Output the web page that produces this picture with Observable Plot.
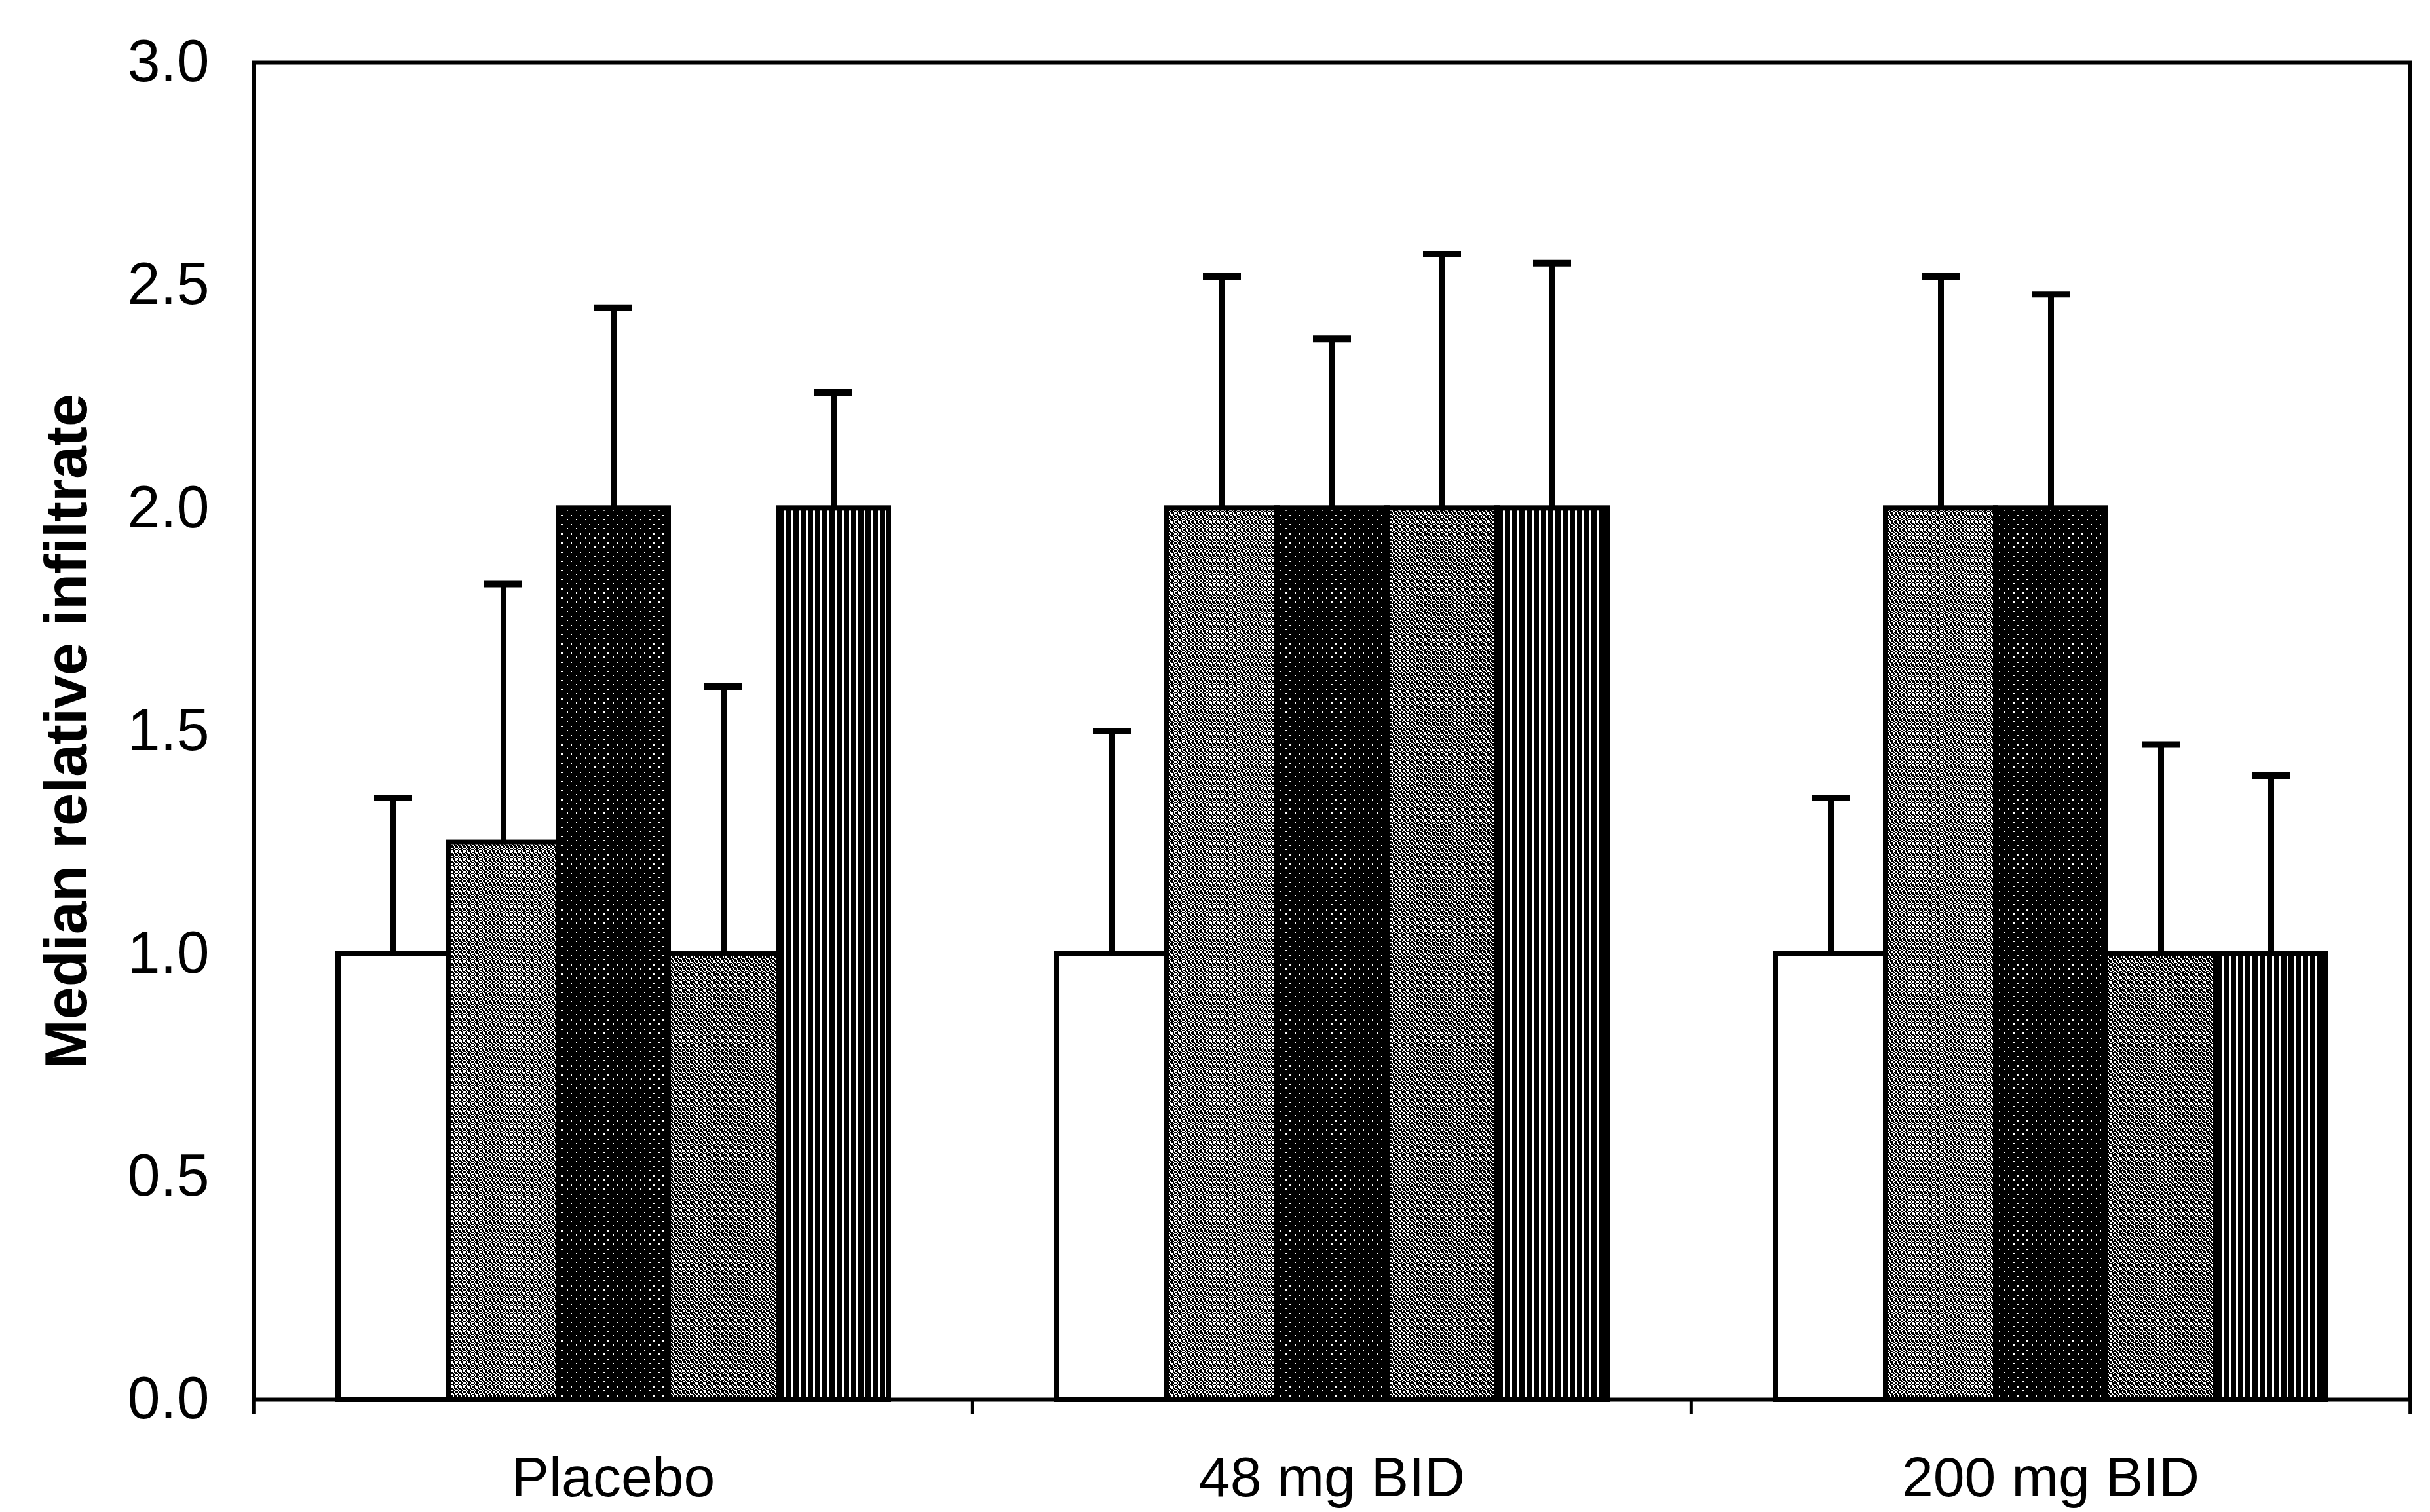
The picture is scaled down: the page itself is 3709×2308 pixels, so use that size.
<!DOCTYPE html>
<html><head><meta charset="utf-8">
<script src="https://cdn.jsdelivr.net/npm/d3@7"></script>
<script src="https://cdn.jsdelivr.net/npm/@observablehq/plot@0.6"></script>
<style>
html,body{margin:0;padding:0;background:#fff;}
#chart svg{display:block;}
[aria-label="y-axis label"] text{font-weight:bold;font-size:90px;}
</style></head><body><div id="chart"></div>
<script>
// ---- data ----
const groups = ["Placebo", "48 mg BID", "200 mg BID"];
const series = ["Series 1", "Series 2", "Series 3", "Series 4", "Series 5"];
const placeboMedian = [1.0, 1.25, 2.0, 1.0, 2.0];
const placeboUpper  = [1.35, 1.83, 2.45, 1.60, 2.26];
const mg48Median    = [1.0, 2.0, 2.0, 2.0, 2.0];
const mg48Upper     = [1.50, 2.52, 2.38, 2.57, 2.55];
const mg200Median   = [1.0, 2.0, 2.0, 1.0, 1.0];
const mg200Upper    = [1.35, 2.52, 2.48, 1.47, 1.40];
const yTicks = [0, 0.5, 1.0, 1.5, 2.0, 2.5, 3.0];
const yLabel = "Median relative infiltrate";

const medians = [placeboMedian, mg48Median, mg200Median];
const uppers = [placeboUpper, mg48Upper, mg200Upper];
const data = [];
groups.forEach((g, gi) => series.forEach((s, si) => {
  data.push({group: g, series: s, median: medians[gi][si], upper: uppers[gi][si]});
}));

// ---- layout ----
const W = 3709, H = 2308;
const mL = 386, mR = 31, mT = 95, mB = 172;
const fw = (W - mL - mR) / groups.length;
const fills = ["white", "url(#pSpeckle)", "url(#pDark)", "url(#pSpeckle2)", "url(#pStripes)"];

const svg = Plot.plot({
  width: W, height: H,
  marginLeft: mL, marginRight: mR, marginTop: mT, marginBottom: mB,
  style: {fontFamily: "'Liberation Sans', Arial, sans-serif", fontSize: "88px", color: "black", background: "white"},
  fx: {domain: groups, padding: 0, label: null},
  x: {domain: series, paddingInner: 0, paddingOuter: 0.76, axis: null},
  y: {domain: [0, 3], label: null},
  color: {domain: series, range: fills},
  marks: [
    Plot.barY(data, {fx: "group", x: "series", y: "median", fill: "series", stroke: "black", strokeWidth: 8}),
    Plot.ruleX(data, {fx: "group", x: "series", y1: "median", y2: "upper", stroke: "black", strokeWidth: 9}),
    Plot.tickY(data, {fx: "group", x: "series", y: "upper", stroke: "black", strokeWidth: 10, inset: 55}),
    Plot.frame({facet: "super", stroke: "black", strokeWidth: 6}),
    Plot.axisY({ticks: yTicks, tickFormat: d3.format(".1f"), tickSize: 0, tickPadding: 68,
      label: yLabel, labelAnchor: "center", labelOffset: 319, labelArrow: "none", fontSize: 90}),
    Plot.axisFx({anchor: "bottom", tickSize: 0, tickPadding: 86, label: null, fontSize: 86}),
    Plot.axisFx({anchor: "bottom", text: null, tickSize: 22, dx: -fw / 2, label: null, strokeWidth: 5}),
    Plot.axisFx({anchor: "bottom", ticks: [groups[groups.length - 1]], text: null, tickSize: 22, dx: fw / 2, label: null, strokeWidth: 5})
  ]
});

// ---- fill patterns (style only) ----
const defs = d3.select(svg).insert("defs", ":first-child");
function cellPattern(id, size, cell, grid, bg, fg) {
  const p = defs.append("pattern").attr("id", id).attr("patternUnits", "userSpaceOnUse")
    .attr("width", size).attr("height", size);
  p.append("rect").attr("width", size).attr("height", size).attr("fill", bg);
  grid.forEach((row, r) => row.forEach((v, c) => {
    if (v) p.append("rect").attr("x", c * cell).attr("y", r * cell).attr("width", cell).attr("height", cell).attr("fill", fg);
  }));
}
cellPattern("pSpeckle", 12, 2, [
  [1,0,1,1,0,1],
  [0,1,0,1,1,0],
  [1,1,0,0,1,0],
  [0,1,1,0,1,1],
  [1,0,1,1,0,1],
  [0,1,0,1,1,0]
], "white", "black");
cellPattern("pSpeckle2", 12, 2, [
  [0,1,1,0,1,1],
  [1,0,1,1,0,1],
  [1,1,0,1,0,0],
  [0,1,1,0,1,1],
  [1,0,1,1,1,0],
  [1,1,0,0,1,1]
], "white", "black");
cellPattern("pDark", 14, 2, [
  [0,0,0,0,0,0,0],
  [0,1,0,0,0,0,0],
  [0,0,0,0,0,0,0],
  [0,0,0,0,0,0,0],
  [0,0,0,0,0,1,0],
  [0,0,0,0,0,0,0],
  [0,0,0,0,0,0,0]
], "black", "white");
{
  const p = defs.append("pattern").attr("id", "pStripes").attr("patternUnits", "userSpaceOnUse")
    .attr("width", 11).attr("height", 11);
  p.append("rect").attr("width", 11).attr("height", 11).attr("fill", "white");
  p.append("rect").attr("width", 8).attr("height", 11).attr("fill", "black");
}

document.getElementById("chart").appendChild(svg);
</script></body></html>
